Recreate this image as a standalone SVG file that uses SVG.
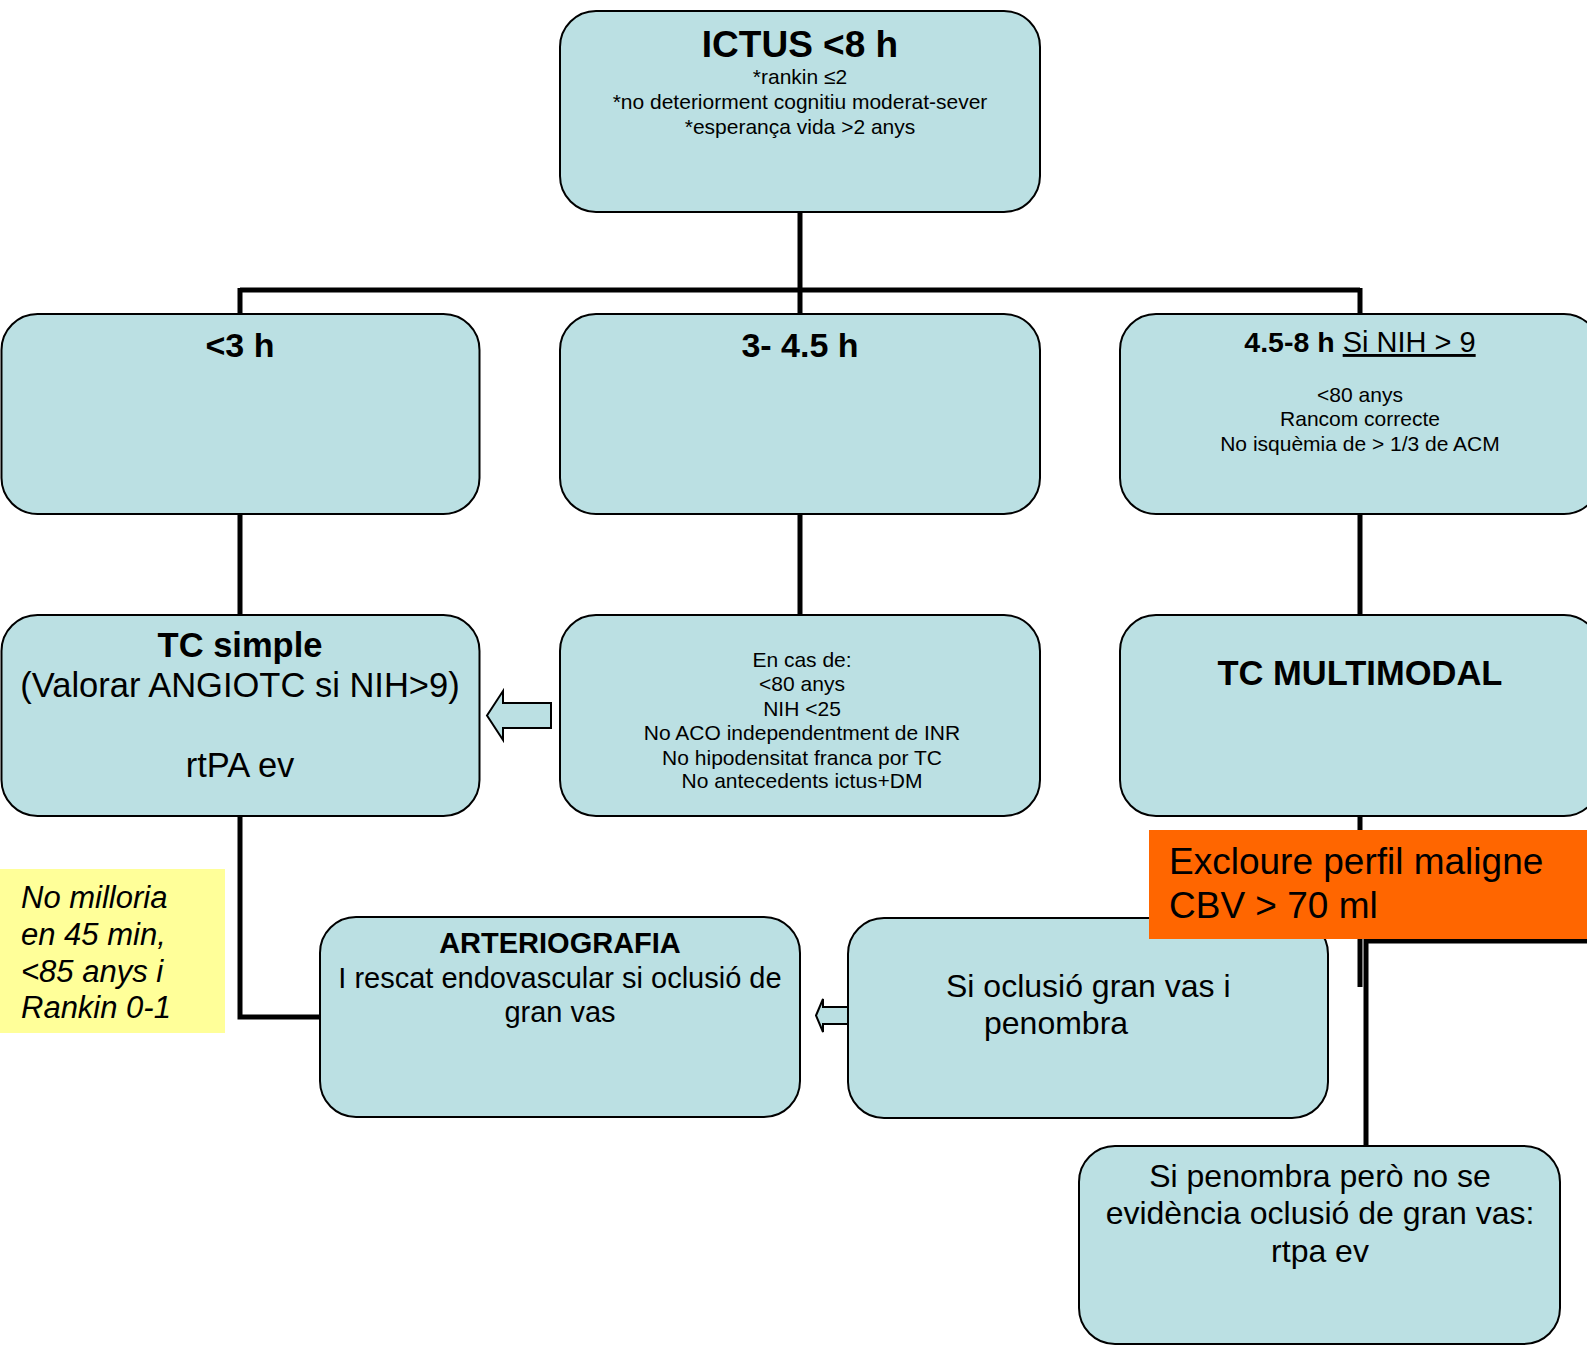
<svg xmlns="http://www.w3.org/2000/svg" width="1587" height="1345" viewBox="0 0 1587 1345">
<style>
text{font-family:"Liberation Sans",Arial,sans-serif;fill:#000}
.box{fill:#BBE0E3;stroke:#000;stroke-width:2}
.arr{fill:#BBE0E3;stroke:#000;stroke-width:2;stroke-linejoin:miter}
.con{fill:none;stroke:#000;stroke-width:5}
.c{text-anchor:middle}
.b{font-weight:bold}
</style>
<rect width="1587" height="1345" fill="#fff"/>
<g id="connectors">
<path class="con" d="M800,212 V290"/>
<path class="con" stroke-width="6" d="M240,290 H1360"/>
<path class="con" d="M240,288 V314 M800,288 V314 M1360,288 V314"/>
<path class="con" d="M240,514 V615 M800,514 V615 M1360,514 V615"/>
<path class="con" d="M240,816 V1017 H320"/>
<path class="con" d="M1360,816 V987"/>
<path class="con" d="M1366,1146 V941 H1590"/>
</g>
<g id="n-ictus">
<rect class="box" x="560" y="11" width="480" height="201" rx="36"/>
<text class="c b" x="800" y="57" font-size="37">ICTUS &lt;8 h</text>
<text class="c" x="800" y="84" font-size="21">*rankin ≤2</text>
<text class="c" x="800" y="109" font-size="21">*no deteriorment cognitiu moderat-sever</text>
<text class="c" x="800" y="134" font-size="21">*esperança vida &gt;2 anys</text>
</g>
<g id="n-lt3">
<rect class="box" x="1.5" y="314" width="478" height="200" rx="36"/>
<text class="c b" x="240" y="357" font-size="34">&lt;3 h</text>
</g>
<g id="n-3to45">
<rect class="box" x="560" y="314" width="480" height="200" rx="36"/>
<text class="c b" x="800" y="357" font-size="34">3- 4.5 h</text>
</g>
<g id="n-45to8">
<rect class="box" x="1120" y="314" width="480" height="200" rx="36"/>
<text class="c" x="1360" y="352" font-size="29"><tspan class="b" font-size="28.5">4.5-8 h</tspan> <tspan text-decoration="underline">Si NIH &gt; 9</tspan></text>
<text class="c" x="1360" y="402" font-size="21">&lt;80 anys</text>
<text class="c" x="1360" y="426" font-size="21">Rancom correcte</text>
<text class="c" x="1360" y="451" font-size="21">No isquèmia de &gt; 1/3 de ACM</text>
</g>
<g id="n-tcsimple">
<rect class="box" x="1.5" y="615" width="478" height="201" rx="36"/>
<text class="c b" x="240" y="657" font-size="34.5">TC simple</text>
<text class="c" x="240" y="697" font-size="34.5">(Valorar ANGIOTC si NIH&gt;9)</text>
<text class="c" x="240" y="777" font-size="34.5">rtPA ev</text>
</g>
<g id="n-encas">
<rect class="box" x="560" y="615" width="480" height="201" rx="36"/>
<text class="c" x="802" y="667" font-size="21">En cas de:</text>
<text class="c" x="802" y="691" font-size="21">&lt;80 anys</text>
<text class="c" x="802" y="716" font-size="21">NIH &lt;25</text>
<text class="c" x="802" y="740" font-size="21">No ACO independentment de INR</text>
<text class="c" x="802" y="765" font-size="21">No hipodensitat franca por TC</text>
<text class="c" x="802" y="788" font-size="21">No antecedents ictus+DM</text>
</g>
<g id="a-encas">
<polygon class="arr" points="487,715.5 503,691 503,703 551,703 551,728 503,728 503,740"/>
</g>
<g id="n-multimodal">
<rect class="box" x="1120" y="615" width="480" height="201" rx="36"/>
<text class="c b" x="1360" y="685" font-size="34.5">TC MULTIMODAL</text>
</g>
<g id="n-note">
<rect x="0" y="869" width="225" height="164" fill="#FFFF99"/>
<text x="21" y="908" font-size="31" font-style="italic">No milloria</text>
<text x="21" y="945" font-size="31" font-style="italic">en 45 min,</text>
<text x="21" y="982" font-size="31" font-style="italic">&lt;85 anys i</text>
<text x="21" y="1018" font-size="31" font-style="italic">Rankin 0-1</text>
</g>
<g id="n-arterio">
<rect class="box" x="320" y="917" width="480" height="200" rx="36"/>
<text class="c b" x="560" y="953" font-size="29">ARTERIOGRAFIA</text>
<text class="c" x="560" y="988" font-size="29">I rescat endovascular si oclusió de</text>
<text class="c" x="560" y="1022" font-size="29">gran vas</text>
</g>
<g id="n-oclusio">
<rect class="box" x="848" y="918" width="480" height="200" rx="36"/>
<text x="946" y="997" font-size="32">Si oclusió gran vas i</text>
<text x="984" y="1034" font-size="32">penombra</text>
</g>
<g id="a-oclusio">
<polygon class="arr" points="816,1015.5 823,999 823,1007 848,1007 848,1024 823,1024 823,1032"/>
</g>
<g id="n-penombra">
<rect class="box" x="1079" y="1146" width="481" height="198" rx="36"/>
<text class="c" x="1320" y="1187" font-size="32">Si penombra però no se</text>
<text class="c" x="1320" y="1224" font-size="32">evidència oclusió de gran vas:</text>
<text class="c" x="1320" y="1262" font-size="32">rtpa ev</text>
</g>
<g id="n-excloure">
<rect x="1149" y="830" width="440" height="109" fill="#FF6600"/>
<text x="1169" y="874" font-size="37">Excloure perfil maligne</text>
<text x="1169" y="918" font-size="37">CBV &gt; 70 ml</text>
</g>
</svg>
